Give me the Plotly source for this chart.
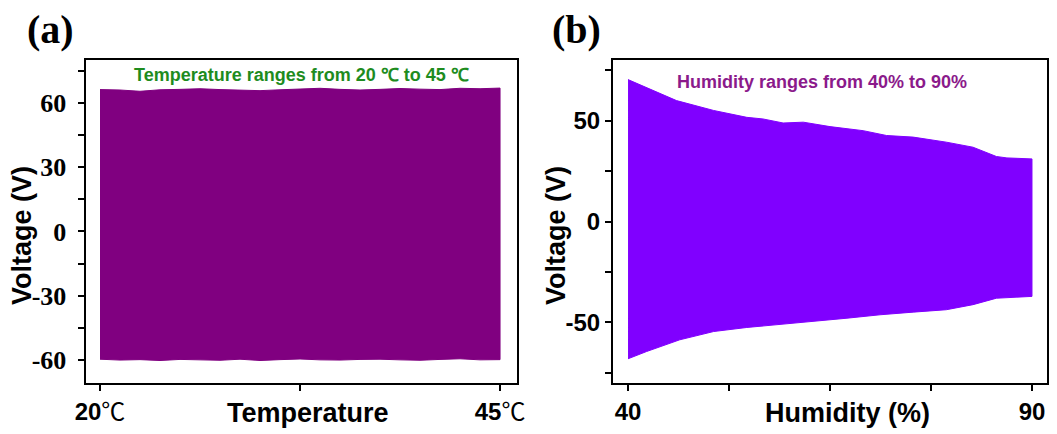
import plotly.graph_objects as go

# ---------------- data ----------------
# Panel (a): envelope of the voltage signal vs temperature
temp_x = [20, 21.25, 22.5, 23.75, 25, 26.25, 27.5, 28.75, 30, 31.25, 32.5,
          33.75, 35, 36.25, 37.5, 38.75, 40, 41.25, 42.5, 43.75, 45]
temp_top = [66.2, 66.0, 65.4, 66.1, 66.3, 66.6, 66.2, 66.0, 65.7, 66.1, 66.4,
            66.8, 66.3, 66.0, 66.3, 66.7, 66.4, 66.2, 66.8, 66.6, 66.9]
temp_bot = [-59.6, -60.0, -59.8, -60.2, -59.7, -59.9, -60.1, -59.6, -60.2, -59.8, -59.5,
            -59.9, -60.0, -59.7, -59.6, -59.9, -60.1, -59.7, -59.4, -59.9, -59.8]

# Panel (b): envelope of the voltage signal vs humidity
hum_top_x = [40, 42.7, 46.0, 50.6, 54.7, 56.7, 59.2, 61.7, 65.0, 69.1, 72.0,
             75.3, 79.4, 82.7, 85.6, 86.9, 90]
hum_top = [70.3, 65.7, 59.9, 55.0, 51.6, 50.8, 48.8, 49.2, 47.0, 45.0, 42.6,
           41.8, 39.3, 36.8, 32.2, 31.5, 31.0]
hum_bot_x = [40, 42.3, 46.4, 50.6, 54.7, 58.8, 62.9, 67.1, 71.2, 75.3, 79.4,
             82.7, 85.6, 90]
hum_bot = [-68.0, -64.4, -58.6, -54.5, -52.5, -51.2, -49.5, -47.9, -46.2, -44.9, -43.7,
           -41.2, -38.0, -37.1]

# ticks (empty label = unlabelled tick)
a_xticks = [20, 32.5, 45]
a_xlabels = ["20", "", "45"]
a_yticks = [-60, -45, -30, -15, 0, 15, 30, 45, 60, 75]
a_ylabels = ["-60", "", "-30", "", "0", "", "30", "", "60", ""]
b_xticks = [40, 52.5, 65, 77.5, 90]
b_xlabels = ["40", "", "", "", "90"]
b_yticks = [-75, -50, -25, 0, 25, 50, 75]
b_ylabels = ["", "-50", "", "0", "", "50", ""]

# ---------------- figure ----------------
W, H = 1057, 434
ML, MR, MT, MB = 86, 10, 60, 51          # plot region in pixels
PW, PH = W - ML - MR, H - MT - MB

def px(x):
    return (x - ML) / PW
def py(y):
    return (H - MB - y) / PH

col_a = "#800080"
col_b = "#8000FF"
SANS = "Liberation Sans, Arial, sans-serif"
SERIF = "Liberation Serif, Times New Roman, serif"
DEG = "<span style='font-family:Noto Sans CJK SC'>℃</span>"
NB = "\u00a0"

def bold(s, tail=""):
    return "<b>" + s + "</b>" + tail if s else ""

fig = go.Figure()
fig.add_trace(go.Scatter(
    x=temp_x + temp_x[::-1], y=temp_top + temp_bot[::-1],
    fill="toself", fillcolor=col_a, mode="lines",
    line=dict(color=col_a, width=1), xaxis="x", yaxis="y"))
fig.add_trace(go.Scatter(
    x=hum_top_x + hum_bot_x[::-1], y=hum_top + hum_bot[::-1],
    fill="toself", fillcolor=col_b, mode="lines",
    line=dict(color=col_b, width=1), xaxis="x2", yaxis="y2"))

axis_common = dict(showline=True, mirror=True, linecolor="black", linewidth=2,
                   ticks="outside", tickwidth=2, tickcolor="black", ticklen=6,
                   showgrid=False, zeroline=False)

fig.update_layout(
    template="none",
    width=W, height=H, margin=dict(l=ML, r=MR, t=MT, b=MB),
    showlegend=False,
    xaxis=dict(domain=[px(86), px(517)], range=[19.125, 46.06], anchor="y",
               tickvals=a_xticks, ticktext=[bold(t, DEG) for t in a_xlabels],
               tickfont=dict(family=SANS, size=24, color="black"),
               **axis_common),
    yaxis=dict(domain=[0, 1], range=[-70.7, 80], anchor="x",
               tickvals=a_yticks, ticktext=[bold(t + NB) if t else "" for t in a_ylabels],
               tickfont=dict(family=SERIF, size=26, color="black"),
               **axis_common),
    xaxis2=dict(domain=[px(613), px(1047)], range=[38.14, 91.86], anchor="y2",
                tickvals=b_xticks, ticktext=[bold(t) for t in b_xlabels],
                tickfont=dict(family=SANS, size=24, color="black"),
                **axis_common),
    yaxis2=dict(domain=[0, 1], range=[-80, 80], anchor="x2",
                tickvals=b_yticks, ticktext=[bold(t) for t in b_ylabels],
                tickfont=dict(family=SANS, size=24, color="black"),
                **axis_common),
)

# plot frames drawn as bordered empty boxes (stroke centred on the axis-line positions)
for cx, wbox in ((301.5, 431), (830, 434)):
    fig.add_annotation(xref="paper", yref="paper", x=px(cx), y=py(221.5),
                       xanchor="center", yanchor="middle", showarrow=False,
                       text=NB, font=dict(size=2, color="white"),
                       width=wbox, height=323, borderpad=0,
                       bordercolor="black", borderwidth=2,
                       bgcolor="rgba(0,0,0,0)")

ann = [
    dict(text="<b>(a)</b>", x=px(50), y=py(29), font=dict(family=SERIF, size=40, color="black")),
    dict(text="<b>(b)</b>", x=px(576), y=py(29), font=dict(family=SERIF, size=40, color="black")),
    dict(text="<b>Temperature ranges from 20 ℃ to 45 ℃</b>", x=px(301), y=py(75),
         font=dict(family=SANS, size=18, color="#1E8C1E")),
    dict(text="<b>Humidity ranges from 40% to 90%</b>", x=px(822), y=py(82),
         font=dict(family=SANS, size=18, color="#8B1A8B")),
    dict(text="<b>Temperature</b>", x=px(308), y=py(413),
         font=dict(family=SANS, size=27, color="black")),
    dict(text="<b>Humidity (%)</b>", x=px(847), y=py(413),
         font=dict(family=SANS, size=27, color="black")),
    dict(text="<b>Voltage (V)</b>", x=px(22), y=py(236), textangle=-90,
         font=dict(family=SANS, size=27, color="black")),
    dict(text="<b>Voltage (V)</b>", x=px(556), y=py(236), textangle=-90,
         font=dict(family=SANS, size=27, color="black")),
]
for a in ann:
    fig.add_annotation(xref="paper", yref="paper", showarrow=False,
                       xanchor="center", yanchor="middle", **a)

fig.write_html("out.html", config={"displayModeBar": False},
               post_script="document.body.style.margin='0px';")
